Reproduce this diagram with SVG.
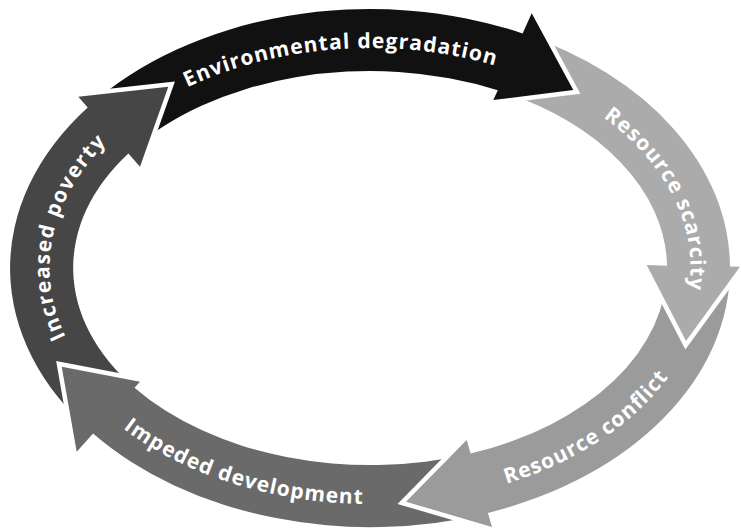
<svg xmlns="http://www.w3.org/2000/svg" xmlns:xlink="http://www.w3.org/1999/xlink" width="741" height="531" viewBox="0 0 741 531">
<style>
.lbl{fill:#ffffff;font-family:"Open Sans","Liberation Sans",sans-serif;font-weight:700;font-size:21px;dominant-baseline:central}
.cut{fill:#000;stroke:#000;stroke-width:9;stroke-linejoin:miter;stroke-miterlimit:10}
</style>
<defs>
<path id="tp1" d="M163.3,90.8 A328.5,228 0 0 1 519.1,64.9"/>
<path id="tp2" d="M591.1,99.4 A328.5,228 0 0 1 692.9,310"/>
<path id="tp3" d="M484.5,481.7 A328.5,228 0 0 0 673.3,355.6"/>
<path id="tp4" d="M112.9,409.9 A328.5,228 0 0 0 382,495.8"/>
<path id="tp5" d="M67.4,356.7 A328.5,228 0 0 1 114.4,124.8"/>
<mask id="m1" maskUnits="userSpaceOnUse" x="0" y="0" width="741" height="531"><rect width="741" height="531" fill="#fff"/><path class="cut" d="M78.3,96.7 L168.3,86.7 L140,166.7 Z"/></mask>
<mask id="m2" maskUnits="userSpaceOnUse" x="0" y="0" width="741" height="531"><rect width="741" height="531" fill="#fff"/><path class="cut" d="M531.7,13.3 L573.3,90 L493.3,100 Z"/></mask>
<mask id="m3" maskUnits="userSpaceOnUse" x="0" y="0" width="741" height="531"><rect width="741" height="531" fill="#fff"/><path class="cut" d="M740,266.7 L686,341 L646.7,265 Z"/></mask>
<mask id="m4" maskUnits="userSpaceOnUse" x="0" y="0" width="741" height="531"><rect width="741" height="531" fill="#fff"/><path class="cut" d="M492,527 L406,501.7 L466.7,440 Z"/></mask>
<mask id="m5" maskUnits="userSpaceOnUse" x="0" y="0" width="741" height="531"><rect width="741" height="531" fill="#fff"/><path class="cut" d="M76.7,451.7 L61.7,366.7 L140,381.7 Z"/></mask>
</defs>
<rect width="741" height="531" fill="#ffffff"/>
<g id="environmental-degradation">
<path fill="#111111" mask="url(#m1)" d="M87.7,107.4 A360,259 0 0 1 522.6,33.4 L531.7,13.3 L573.3,90 L493.3,100 L497.8,90.2 A297,197 0 0 0 128.4,153.4 Z"/>
<text class="lbl"><textPath href="#tp1" startOffset="50%" text-anchor="middle" textLength="320" lengthAdjust="spacing">Environmental degradation</textPath></text>
</g>
<g id="resource-scarcity">
<path fill="#ababab" mask="url(#m2)" d="M522.6,33.4 A360,259 0 0 1 730,266.6 L740,266.7 L686,341 L646.7,265 L667,265.7 A297,197 0 0 0 497.8,90.2 Z"/>
<text class="lbl"><textPath href="#tp2" startOffset="50%" text-anchor="middle" textLength="210" lengthAdjust="spacing">Resource scarcity</textPath></text>
</g>
<g id="resource-conflict">
<path fill="#9b9b9b" mask="url(#m3)" d="M730,266.6 A360,259 0 0 1 487.9,512.9 L492,527 L406,501.7 L466.7,440 L470.6,453.5 A297,197 0 0 0 667,265.7 Z"/>
<text class="lbl"><textPath href="#tp3" startOffset="50%" text-anchor="middle" textLength="192" lengthAdjust="spacing">Resource conflict</textPath></text>
</g>
<g id="impeded-development">
<path fill="#6a6a6a" mask="url(#m4)" d="M487.9,512.9 A360,259 0 0 1 93.1,433.5 L76.7,451.7 L61.7,366.7 L140,381.7 L134.5,387.7 A297,197 0 0 0 470.6,453.5 Z"/>
<text class="lbl"><textPath href="#tp4" startOffset="50%" text-anchor="middle" textLength="250" lengthAdjust="spacing">Impeded development</textPath></text>
</g>
<g id="increased-poverty">
<path fill="#464646" mask="url(#m5)" d="M93.1,433.5 A360,259 0 0 1 87.7,107.4 L78.3,96.7 L168.3,86.7 L140,166.7 L128.4,153.4 A297,197 0 0 0 134.5,387.7 Z"/>
<text class="lbl"><textPath href="#tp5" startOffset="50%" text-anchor="middle" textLength="222" lengthAdjust="spacing">Increased poverty</textPath></text>
</g>
<g id="connectors"></g>
</svg>
